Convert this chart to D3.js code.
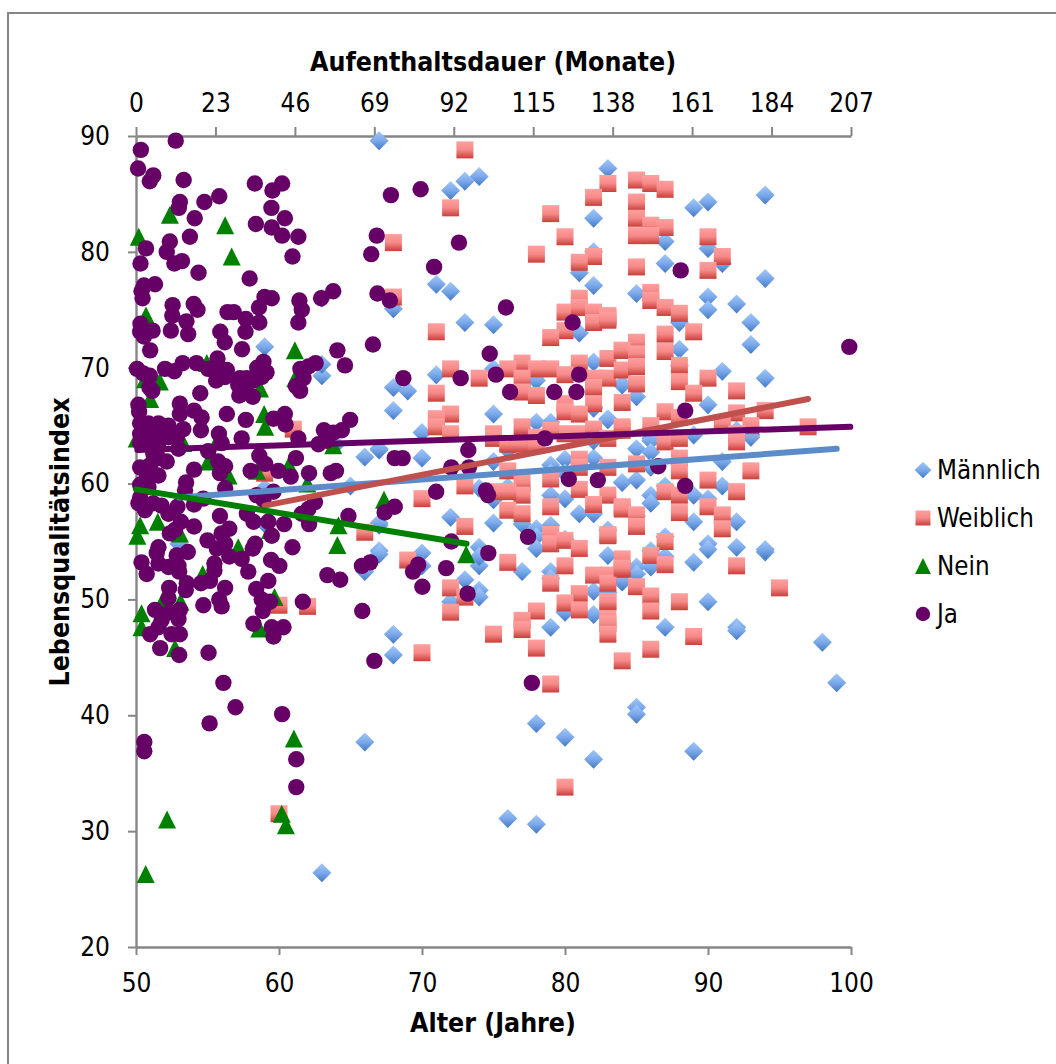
<!DOCTYPE html>
<html>
<head>
<meta charset="utf-8">
<script src="https://cdn.jsdelivr.net/npm/d3@7"></script>
<style>
  html, body { margin: 0; padding: 0; background: #fff; overflow: hidden; }
  text { font-family: "DejaVu Sans Condensed", "DejaVu Sans", sans-serif; fill: #000; }
</style>
</head>
<body>
<div id="chart"></div>
<script>
// [Alter, Index]
const maennlich = [[67,89.6],[72,85.3],[73,86.1],[74,86.5],[83,87.2],[82,82.9],[82,80],[81,78.2],[82,77.1],[71,77.2],[72,76.6],[68,75.1],[73,73.9],[75,73.7],[81,73],[82,70.5],[75,69.9],[71,69.4],[78,68.9],[68,68.3],[69,68],[84,68.6],[75,66],[68,66.3],[78,65.3],[82,66.6],[83,65.6],
  [59,71.8],[63,76],[63,69.3],[63,70.3],[66,62.3],[65,59.8],[64,63.4],[67,62.9],[59,59.6],[53,54.8],[59,56.5],[67,54.2],[66,52.4],[67,56.4],[66,37.7],[63,26.4],
  [70,64.4],[67,63],[70,62.2],[76,62.9],[75,61.9],[72,57.1],[75,56.6],[67,56.6],[74,59.6],[75,58.6],[76,59.7],[77,56.5],[78,56.1],[78,55.4],[78,54.4],[74,54.5],[74,52.9],[74,53.7],[70,54],[70,52.9],[67,53.9],[73,51.7],[74,50.8],[74,50.2],[72,49.8],[77,52.4],[79,52.4],[79,51.8],[68,47],[68,45.2],[79,47.6],[80,48.9],[82,48.7],[82,50.7],[83,50.6],[84,51.5],[83,53.8],[80,55.2],[81,57.4],[82,57.4],[79,56.4],[83,56],[79,59],[80,58.7],[79,61.6],[80,62.1],[79,60.9],[80,60.9],[84,60.1],[82,62.2],[82,63.7],[83,65.5],[79,65.3],[82,66.5],
  [76,31.1],[78,30.6],[78,39.3],[80,38.1],[82,36.2],[85,40.7],[85,40.1],[89,36.9],[98,46.3],[99,42.8],
  [89,83.8],[90,84.3],[94,84.9],[87,80.9],[90,80.3],[91,79],[87,79],[94,77.7],[85,76.4],[90,76.1],[90,75],[92,75.5],[93,73.9],[88,73.9],[93,72],[88,71.6],[91,69.7],[94,69.1],[88,70.2],[85,67.5],[84,68.5],[90,66.8],[92,64.6],[93,64.2],[89,64.2],[86,63.9],
  [85,63],[86,63.7],[86,62.7],[93,64],[91,61.9],[86,61.4],[85,60.3],[87,59.8],[91,59.8],[89,59],[90,58.7],[86,59],[86,58.3],[85,57.2],[89,56.7],[92,56.7],[87,55.4],[90,54.8],[90,54.3],[92,54.5],[94,54.1],[94,54.3],[86,54.2],[87,53.7],[86,52.8],[89,53.2],[85,52.8],[85,52.2],[84,51.6],[90,49.8],[87,47.6],[92,47.6],[92,47.3]];

const weiblich = [[73,88.8],[72,83.8],[83,85.9],[82,84.7],[79,83.3],[80,81.3],[68,80.8],[78,79.8],[82,79.6],[81,79.1],[68,76.1],[81,76],[80,74.8],[81,75.2],[82,74.8],[83,74.3],[82,73.9],[80,73.2],[79,72.6],[71,73.1],[84,71.5],[83,70.8],[81,70.4],[77,70.4],[79,69.9],[78,69.9],[76,69.9],[74,69.1],[72,69.9],[80,69.4],[82,69.1],[83,69.1],[84,69.8],[77,69.1],[82,68.3],[77,67.9],[78,67.6],[71,67.8],[84,67],[82,66.9],[80,66.9],[80,66.2],[81,66],[72,66],[71,65.6],
  [71,64.9],[72,64.3],[75,64.3],[75,63.9],[77,64.9],[76,63.4],[77,63.4],[78,64],[78,63.3],[80,64.3],[81,64.3],[82,64.7],[83,63.9],[84,64.6],[79,64.6],[76,61.1],[77,60.1],[77,59],[81,62.1],[81,61.4],[79,60.4],[81,59.5],[83,61.4],[83,59],[84,58],[82,58.2],[79,58],[76,57.7],[77,57.4],[73,59.8],[70,58.7],[75,59.3],[76,59.3],[73,56.3],[79,55.6],[79,54.8],[80,55.1],[81,54.4],[83,55.6],[76,53.2],[69,53.4],[80,52.9],[79,51.4],[82,52.1],[83,52.1],[84,52.6],[83,51.4],[83,49.8],[81,50.5],[80,49.7],[81,49.1],[83,48.3],[83,47.9],[83,47],[72,51],[73,50.2],[72,48.9],[78,49],[77,48.2],[77,47.4],[75,47],[78,45.8],[70,45.4],[84,44.7],[79,42.7],
  [66,55.8],[59,60.9],[61,64.7],[60,49.5],[62,49.4],[60,31.5],[80,33.8],
  [85,86.2],[86,85.9],[87,85.4],[85,84.3],[85,82.9],[86,82.3],[87,82.1],[85,81.4],[86,81.4],[90,81.3],[91,79.6],[85,78.7],[90,78.4],[86,76.5],[86,75.8],[87,75.2],[88,74.7],[83,74.5],[83,74.1],[89,73.1],[85,72.2],[84,71.5],[87,72.9],[87,71.4],[85,71.2],[88,70.2],[88,68.8],[85,70.1],[85,68.6],[90,69.1],[92,68],[89,67.8],[87,66.2],[92,66.1],[94,66.3],[88,65.7],[84,64.9],[86,65],[91,65.2],[93,65],[97,64.9],[92,64.3],
  [87,63.6],[88,63.9],[92,63.6],[88,62.2],[88,61.1],[85,61.7],[93,61.1],[90,60.3],[92,59.3],[87,59.3],[88,59],[84,57.8],[85,57.3],[85,56.3],[90,58],[91,57.3],[91,56.1],[88,57.5],[83,55.5],[87,55],[86,53.8],[87,53],[92,52.9],[84,53.5],[84,52.7],[85,51.1],[86,50.3],[86,49],[88,49.8],[83,49.8],[95,51],[89,46.8],[86,45.7]];

// [Monate, Index]
const nein = [[9.8,83.2],[25.8,82.3],[27.7,79.6],[0.8,81.3],[2.9,74.5],[46,71.5],[20.5,70.4],[4.1,67.3],[6.9,68.8],[2.6,69],[35.9,68.2],[46.1,69.1],[37.1,66],[37.4,64.9],[0.2,63.9],[13.7,63.5],[23.4,63.6],[20.9,61.9],[26.8,60.7],[35,61.1],[44.3,61.6],[49.6,60],[57.1,63.3],[1.2,56.4],[6.3,56.7],[0.4,55.5],[12.7,55.7],[29.6,54.5],[58.6,56.4],[58.3,54.7],[38.8,56],[19.3,52.2],[40.1,50.2],[12.9,49.8],[7.9,50],[1.6,48.8],[1.6,47.6],[35.7,47.5],[11.3,45.8],[71.8,58.6],[95.6,53.9],[45.7,38],[9,31],[42.2,31.5],[43.4,30.5],[2.8,26.3]];

const ja = [[11.5,89.6],[1.4,88.8],[0.6,87.2],[5,86.6],[4,86.1],[13.8,86.2],[34.4,85.9],[42.3,85.9],[39.5,85.3],[24.1,84.8],[19.8,84.3],[12.7,84.3],[12.4,83.8],[39.2,83.8],[17,82.9],[43.1,82.9],[34.7,82.4],[39.3,82.1],[42.3,81.4],[47,81.3],[15.6,81.3],[9.8,80.9],[2.9,80.3],[8.9,80],[13.3,79.2],[11.1,79],[1.3,79],[45.3,79.6],[69.7,81.4],[68.1,79.8],[18.1,78.2],[32.9,77.7],[5.5,77.2],[2.3,77.1],[1.6,76.6],[1.9,76],[37.2,76.1],[39.3,76],[57.1,76.6],[53.6,76],[69.9,76.4],[47.3,75.8],[48,75],[10.6,75.4],[10.5,74.5],[16.7,75.5],[17.8,75],[26.5,74.8],[28.3,74.8],[31.8,74.2],[35.6,75.2],[35.7,73.9],[47,73.9],[14.6,74],[10.1,73.2],[15.1,72.9],[1.3,73.8],[1.2,73.1],[4.8,73.2],[2.3,72.7],[4.1,71.5],[24.4,73.1],[25.7,72.2],[31.7,73.1],[30.7,71.6],[68.6,72],[58.3,71.5],[60.5,70.2],[52,70.4],[49.9,70.1],[47.6,69.9],[48.5,69.1],[46.3,68.4],[47.5,68],[0.3,69.9],[2.1,69.5],[4,69.3],[3.9,68.3],[4.7,68],[8.4,69.9],[11.1,69.7],[13.5,70.4],[17.5,70.4],[23.6,70.8],[20.9,69.9],[23.6,69.9],[26.3,69.8],[25.8,69.2],[23.2,68.9],[30.1,69.1],[32,69.1],[29.6,68.5],[29.9,67.6],[33.8,67.5],[31.8,68.3],[36.9,70.5],[35.1,70],[37.8,69.6],[36.4,69.2],[34,68.9],[18.6,67.8],[0.7,66.8],[0.9,66.2],[12.7,66.9],[12.7,66],[16.8,66.3],[19,65.7],[26.3,66],[31.8,65.5],[39.8,65.6],[43.1,66],[62,65.5],
  [18.8,64.6],[43.3,65.1],[47,63.9],[54.4,64.6],[59.6,64.6],[57.1,64.4],[55.2,63.7],[52.8,63.4],[30.6,63.9],[24,64.3],[24.8,63.5],[20.9,62.8],[23.8,61.9],[25.8,61.5],[24.3,60.9],[35.7,62.4],[37.4,61.7],[33.2,61.1],[41.2,61.1],[44.8,60.6],[46.3,62.2],[50.1,60.9],[56.4,60.9],[57.9,61.1],
  [1.2,65.2],[1.2,64.3],[1.2,63.5],[3.6,65.2],[3.6,64.3],[3.6,63.5],[6.5,65.2],[6.5,64.3],[6.5,63.5],[9.4,65],[9.4,64],[11.8,64],[12.3,63],[13.7,64.7],[5,62.6],[6.5,62.2],[8.9,61.9],[1.2,61.4],[4.1,61.6],[6.5,60.7],[3.1,60.6],[1.2,59.9],[3.6,59.7],[14.5,60.1],[16.8,61.2],[14.2,59.4],[25.8,59.6],
  [1.2,58.8],[0.7,58.3],[2.6,57.7],[5,58.3],[7.4,58.1],[9.4,57.4],[12,58],[16.8,58.2],[19.5,58.7],[24.3,57.2],[34.9,59],[39.8,59.3],[36.9,58.6],[32.1,57.4],[34,56.7],[38.3,56.7],[42.9,56.5],[39.3,55.5],[45.3,54.5],[51.8,58.4],[49.9,57.8],[48,57.4],[50.1,56.5],[61.5,57.2],[13,56.7],[16.8,56.3],[9.8,55.7],[11.3,56],[27,56.1],[24.8,55.7],[20.7,55.1],[25.8,54.8],[23.4,54.4],[34.5,54.8],[33.8,54.4],[27,53.7],[30.6,53.5],[39.1,53.4],[41.5,52.9],[38.3,51.6],[32.5,52.4],[22.7,53.1],[22.7,52.5],[15,54.1],[6.5,54.5],[6,54],[11.8,53.8],[6.5,53.1],[9.4,52.8],[12.3,52.9],[12.5,52.4],[1.6,53.2],[3.1,52.2],[55.4,52.1],[59.1,51.7],[65.4,52.9],[67.8,53.2],[9.6,51],[9.4,50.1],[14.7,51.4],[14.4,50.8],[18.8,51.4],[21.4,51.6],[25.8,51],[24.1,50],[24.8,49.4],[19.5,49.5],[34.8,50.9],[36.4,50],[38.8,49.8],[36.7,49],[48.3,49.8],[65.5,49],[5.5,49.1],[7.4,48.2],[9.8,48.9],[12.7,49.1],[12.3,48.3],[6.5,47.6],[4.1,47],[10.3,47],[12.7,47],[34,47.9],[39.3,47.6],[42.7,47.6],[39.8,46.8],[7,45.8],[12.5,45.2],[21,45.4],[69,44.7],[25.3,42.8],[28.8,40.7],[21.3,39.3],[42.3,40.1],[2.4,37.7],[2.4,36.9],[46.4,36.2],[46.4,33.8],
  [73.8,84.9],[82.4,85.4],[93.5,80.8],[86.3,78.7],[73.5,75.8],[107.1,75.2],[126.4,73.9],[102.4,71.2],[77.4,69.1],[94,69.1],[104.2,69.4],[128.3,69.4],[121.1,67.9],[127.5,67.9],[108.3,67.9],
  [118.4,63.9],[96.2,62.9],[74.9,62.2],[77.2,62.2],[91.3,61.4],[96.4,61.4],[125.3,60.4],[133.7,60.3],[86.9,59.3],[101.3,59.4],[101.9,59],[74.9,58],[72,57.5],[113.5,55.4],[91.3,55],[102,54],[81.7,53],[80.2,52.4],[89.8,52.7],[82.9,51.1],[96,50.5],[114.6,42.8],
  [157.7,78.4],[206.5,71.8],[159,66.3],[151.2,61.5],[159,59.8]];

// Trendlinien, Endpunkte
const trendMaennlich = [[53,58.8],[99,63]];
const trendWeiblich = [[59,58.1],[97,67.3]];
const trendNein = [[0,59.5],[95.7,54.8]];
const trendJa = [[0.4,62.9],[206.8,64.9]];

const ageTicks = [50,60,70,80,90,100];
const monthTicks = [0,23,46,69,92,115,138,161,184,207];
const indexTicks = [20,30,40,50,60,70,80,90];
const legendNames = ['Männlich','Weiblich','Nein','Ja'];

const width = 1056, height = 1064;
const left = 136, right = 851, top_ = 136, bottom = 947;
const axisCol = '#868686';

const x = d3.scaleLinear().domain([50,100]).range([left,right]);
const xMonths = d3.scaleLinear().domain([0,207]).range([left,right]);
const y = d3.scaleLinear().domain([20,90]).range([bottom,top_]);

const svg = d3.select('#chart').append('svg')
    .attr('width', width)
    .attr('height', height)
    .style('display', 'block');

const defs = svg.append('defs');
function addGradient(id, c1, c2, c3) {
    let g = defs.append('linearGradient').attr('id', id)
        .attr('x1', 0).attr('y1', 0).attr('x2', 0).attr('y2', 1);
    g.append('stop').attr('offset', '0%').attr('stop-color', c1);
    g.append('stop').attr('offset', '50%').attr('stop-color', c2);
    g.append('stop').attr('offset', '100%').attr('stop-color', c3);
}
addGradient('gradBlue', '#a3c8f9', '#7ba9ea', '#4279c4');
addGradient('gradRed', '#ff9f9f', '#f58a88', '#c93f3a');

// Rahmen, rechts und unten ausserhalb des Bildes
svg.append('rect')
    .attr('x', 8).attr('y', 13)
    .attr('width', 1200).attr('height', 1200)
    .attr('fill', 'none')
    .attr('stroke', axisCol)
    .attr('stroke-width', 2);

function styleAxis(g) {
    g.selectAll('.domain').attr('stroke', axisCol).attr('stroke-width', 2.4);
    g.selectAll('.tick line').attr('stroke', axisCol).attr('stroke-width', 2);
    g.selectAll('.tick text')
        .style('font-size', '26px')
        .style('font-family', '"DejaVu Sans Condensed", "DejaVu Sans", sans-serif')
        .attr('fill', '#000');
}

svg.append('g')
    .attr('transform', `translate(0,${bottom})`)
    .call(d3.axisBottom(x).tickValues(ageTicks).tickSize(8).tickPadding(19).tickSizeOuter(0))
    .call(styleAxis);

svg.append('g')
    .attr('transform', `translate(0,${top_})`)
    .call(d3.axisTop(xMonths).tickValues(monthTicks).tickSize(9).tickPadding(15).tickSizeOuter(0))
    .call(styleAxis);

svg.append('g')
    .attr('transform', `translate(${left},0)`)
    .call(d3.axisLeft(y).tickValues(indexTicks).tickSize(8).tickPadding(18).tickSizeOuter(0))
    .call(styleAxis);

const shapes = {
    diamond: 'M0,-9.5L9.5,0L0,9.5L-9.5,0Z',
    square: 'M-8.5,-8.5H8.5V8.5H-8.5Z',
    triangle: 'M0,-9L9,9H-9Z',
    circle: 'M8.2,0A8.2,8.2 0 1,1 -8.2,0A8.2,8.2 0 1,1 8.2,0Z'
};

function drawPoints(data, xs, shape, fill) {
    svg.append('g').selectAll('path')
        .data(data).enter()
        .append('path')
        .attr('transform', (d) => `translate(${xs(d[0])},${y(d[1])})`)
        .attr('d', shapes[shape])
        .attr('fill', fill);
}

drawPoints(maennlich, x, 'diamond', 'url(#gradBlue)');
drawPoints(weiblich, x, 'square', 'url(#gradRed)');
drawPoints(nein, xMonths, 'triangle', '#008000');
drawPoints(ja, xMonths, 'circle', '#660066');

function drawTrend(data, xs, col) {
    svg.append('path')
        .datum(data)
        .attr('fill', 'none')
        .attr('stroke', col)
        .attr('stroke-width', 6)
        .attr('stroke-linecap', 'round')
        .attr('d', d3.line().x((d) => xs(d[0])).y((d) => y(d[1])));
}

drawTrend(trendMaennlich, x, '#5b8cc9');
drawTrend(trendWeiblich, x, '#c0504d');
drawTrend(trendNein, xMonths, '#008000');
drawTrend(trendJa, xMonths, '#660066');

// Achsentitel
svg.append('text')
    .attr('x', 493).attr('y', 71)
    .attr('text-anchor', 'middle')
    .style('font-size', '26.5px').style('font-weight', 'bold')
    .text('Aufenthaltsdauer (Monate)');

svg.append('text')
    .attr('x', 493).attr('y', 1032)
    .attr('text-anchor', 'middle')
    .style('font-size', '26.5px').style('font-weight', 'bold')
    .text('Alter (Jahre)');

svg.append('text')
    .attr('transform', 'translate(69,542) rotate(-90)')
    .attr('text-anchor', 'middle')
    .style('font-size', '26.5px').style('font-weight', 'bold')
    .text('Lebensqualitätsindex');

// Legende
const legendShapes = ['diamond','square','triangle','circle'];
const legendFills = ['url(#gradBlue)','url(#gradRed)','#008000','#660066'];
const legend = svg.append('g').selectAll('g')
    .data(legendNames).enter()
    .append('g')
    .attr('transform', (d, i) => `translate(923,${470 + i * 48})`);

legend.append('path')
    .attr('d', (d, i) => shapes[legendShapes[i]])
    .attr('fill', (d, i) => legendFills[i])
    .attr('transform', 'scale(0.88)');

legend.append('text')
    .attr('x', 14).attr('y', 9)
    .style('font-size', '25.7px')
    .text((d) => d);
</script>
</body>
</html>
